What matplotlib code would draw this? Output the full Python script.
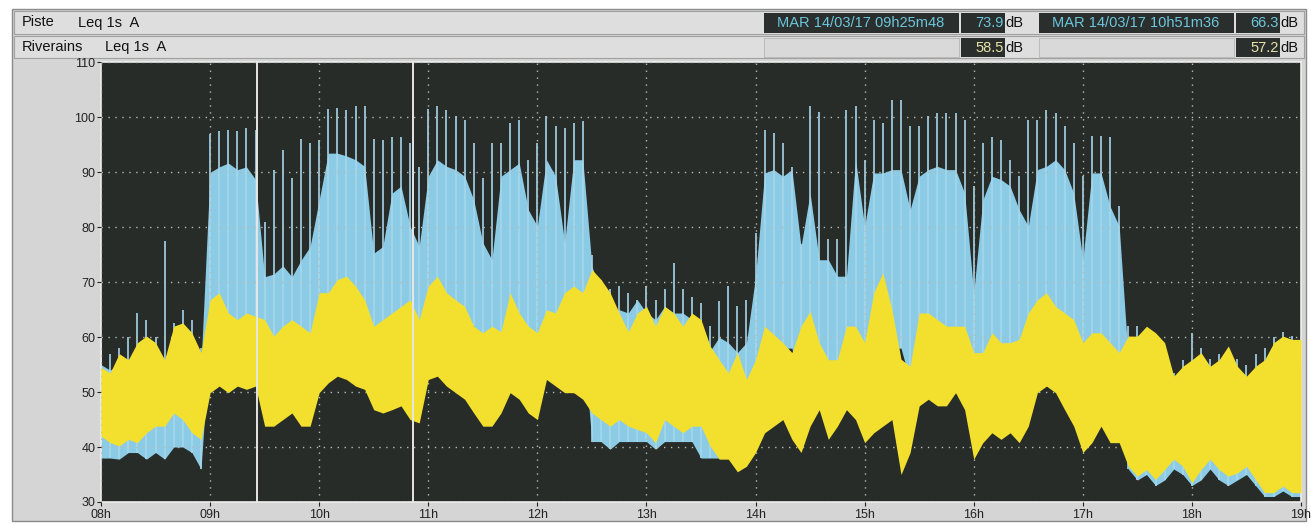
import numpy as np
import matplotlib
matplotlib.use("Agg")
import matplotlib.pyplot as plt
from matplotlib.patches import Rectangle

plt.rcParams['font.family'] = ['Liberation Sans', 'DejaVu Sans']

# ---------------- data (5-minute envelopes, 08:00 -> 19:00) ----------------
bin_minutes = 5
start_hour = 8
end_hour = 19

# Piste (Leq 1s A): spike tops
piste_max = [60, 57, 58, 60, 64.4, 63.2, 60, 77.5, 62.6, 65, 63.2, 58,
             97, 97.5, 97.8, 97.5, 98, 97.8, 81, 90.5, 94, 89,
             96, 95.3, 95.9, 101.5, 101.7, 101.4, 102, 102, 96, 95.9, 96.5, 96.5,
             95.3, 91, 101.5, 102, 101.4, 100.2, 99.6, 95.3, 89, 95.3,
             95.3, 99, 99.6, 92.3, 95.3, 100.2, 98.4, 98, 99, 99.3, 75, 70.5,
             68.7, 69.3, 68.1, 66.8, 69.3, 66.8, 68.7, 73.5, 68.7, 67.4,
             66.2, 62, 66.5, 69.3, 65.6, 66.8, 79, 97.8, 97.2, 95.3, 91, 77,
             102, 101, 77.8, 77.8, 101.3, 102, 92.3, 99.6, 99, 103.2,
             103.2, 98.4, 98.4, 100.2, 100.8, 100.8, 100.8, 99.6, 87.5, 95.3, 96.5, 95.9,
             92.3, 89.3, 99.6, 99.6, 101.4, 100.8, 98.4, 95.3, 89.3, 96.6,
             96.6, 96.5, 83.8, 62, 62, 60, 58, 58, 53.5, 55.9, 60.8, 58,
             56, 57, 57.8, 56, 55, 57, 58, 60, 61, 60.2]
# Piste: top of the dense body
piste_body = [55, 54, 55, 55, 58, 58, 56, 56, 60, 60, 58, 55,
              90, 91, 91.7, 90.5, 91, 88.7, 71, 71.5, 73, 71,
              74, 76.5, 85, 93.5, 93.5, 93, 92.3, 91.1, 75.3, 76.5, 86.2, 87.5,
              80.2, 76.5, 89.3, 92.3, 91.1, 90.5, 89.3, 85, 77.2, 74.1,
              89.3, 90.5, 91.7, 83.2, 80.2, 92.3, 89.3, 77.2, 92.3, 92.3, 72.9, 68.1,
              64.4, 65, 64.4, 66.8, 64.4, 63.2, 65.6, 64.4, 64.4, 63.2,
              61, 57.5, 60, 59, 57.2, 59, 71.1, 89.9, 90.5, 89.3, 90.5, 76.5,
              86.2, 74.1, 74.1, 71.1, 71.1, 92.3, 80.2, 89.9, 89.9, 90.5,
              90.5, 83.2, 89.3, 90.5, 91.1, 90.5, 90.5, 86.2, 68.1, 85, 89.3, 88.7,
              87.5, 83.2, 80.2, 90.5, 91.1, 92.3, 90.5, 86.2, 74.1, 89.9,
              89.9, 83.8, 80.2, 56, 55, 55, 53, 52, 50, 51, 53, 52,
              51, 52, 54, 51, 50, 52, 52, 55, 56, 55]
# Piste: lower envelope
piste_min = [38, 38, 37.8, 39, 39, 37.8, 39, 37.8, 40, 40, 39, 36,
             60, 60, 60, 60, 60, 60, 58, 58, 58, 58,
             58, 58, 62, 62, 62, 62, 62, 62, 58, 58, 58, 58,
             58, 58, 62, 62, 62, 62, 62, 62, 58, 58,
             60, 60, 60, 60, 60, 60, 60, 60, 60, 60, 41, 41,
             39.6, 41, 41, 41, 41, 39.6, 41, 41, 41, 41,
             38, 38, 38, 38, 38, 38, 50, 58, 58, 58, 58, 50,
             58, 50, 50, 50, 50, 58, 52, 58, 58, 58,
             58, 52, 58, 58, 58, 58, 58, 58, 48, 55, 58, 58,
             56, 54, 56, 58, 58, 58, 58, 56, 48, 56,
             56, 52, 50, 36, 34, 35, 33, 34, 36, 35, 33, 34,
             36, 34, 33, 34, 35, 33, 31, 31, 32, 31]
# Riverains (Leq 1s A): upper and lower envelopes
riv_max = [54.5, 53.5, 57, 55.9, 59, 60.2, 59, 55.9, 62, 62.6, 60.8, 57.2,
           66.8, 68.1, 64.4, 63.2, 64.4, 63.8, 63.2, 60.2, 62, 63.2,
           62, 60.8, 68.1, 68.1, 70.5, 71.1, 69.3, 66.8, 62, 63.2, 64.4, 65.6,
           66.8, 63.2, 69.3, 71.1, 68.1, 66.8, 65.6, 62, 60.8, 62,
           61, 68.1, 64.4, 62, 60.8, 65, 64.4, 68.1, 69.3, 68.1, 72.3, 70.5,
           68.1, 64.4, 61, 64.4, 65.6, 62, 65.6, 64.4, 62, 64.4,
           63.2, 58.4, 55.9, 53.5, 57.2, 52.3, 55.9, 62, 60.5, 59, 57.2, 62,
           64.7, 59, 55.9, 55.9, 62, 62, 59, 68.1, 71.7, 65,
           56, 54.7, 64.4, 64.4, 63.2, 62, 62, 62, 57.2, 57.2, 60.8, 59,
           59, 59.6, 64.4, 66.8, 68.1, 65.6, 64.4, 63.2, 59, 60.8,
           60.8, 59, 57.2, 60.2, 60.2, 62, 60.8, 59, 52.9, 54.7, 55.9, 57.2,
           54.7, 55.9, 58.4, 54.7, 52.9, 54.7, 55.9, 59, 60.2, 59.6]
riv_min = [42, 40.8, 40.2, 41.4, 40.8, 42.6, 43.8, 43.8, 46.2, 45, 42.6, 41.4,
           49.9, 51.1, 49.9, 51.1, 50.5, 51.1, 43.8, 43.8, 45, 46.2,
           43.8, 43.8, 49.9, 51.7, 52.9, 52.3, 51.1, 50.5, 46.8, 46.2, 46.8, 47.5,
           45, 44.4, 52.3, 52.9, 51.1, 49.9, 48.7, 46.2, 43.8, 43.8,
           46.2, 49.9, 48.7, 46.2, 45, 52.3, 51.1, 49.9, 49.9, 48.7, 46.2, 45,
           43.8, 45, 43.8, 43.2, 42.6, 40.8, 45, 43.8, 42.6, 43.8,
           43.8, 40.2, 37.8, 37.8, 35.5, 36.5, 39, 42.6, 43.8, 45, 41.4, 39,
           43.8, 46.8, 41.4, 43.8, 46.8, 45, 40.8, 42.6, 43.8, 45,
           35, 39, 47.5, 48.7, 47.5, 47.5, 49.9, 46.8, 37.8, 40.8, 42.6, 41.4,
           42.6, 40.8, 43.8, 49.9, 51.1, 49.9, 46.8, 43.8, 39, 40.8,
           43.8, 40.8, 40.8, 36.5, 34.7, 35.9, 34.1, 35.9, 37.8, 36.5, 33.5, 35.9,
           37.8, 35.9, 34.7, 35.3, 36.5, 34.1, 31.7, 31.7, 32.9, 31.7]

cursor_times = ["09h25m48", "10h51m36"]
cursor_piste = ["73.9", "66.3"]
cursor_riv = ["58.5", "57.2"]
date_label = "MAR 14/03/17"
y_ticks = [30, 40, 50, 60, 70, 80, 90, 100, 110]
x_tick_labels = ["08h", "09h", "10h", "11h", "12h", "13h", "14h", "15h", "16h", "17h", "18h", "19h"]

# ---------------- styling ----------------
W, H = 1311, 525
BG_PLOT = "#272c29"
BLUE = "#8ccbe6"
SPIKE = "#a6d5ea"
YELLOW = "#f3e02e"
PANEL = "#d5d5d5"
ROW = "#dedede"
DARKBOX = "#2a2f2d"
CYAN_TXT = "#6cc6dc"
YEL_TXT = "#eae3a6"

fig = plt.figure(figsize=(W / 100, H / 100), dpi=100)
fig.patch.set_facecolor("white")


def frac(x, y, w, h):
    """pixel box (top-left origin) -> figure fraction (left, bottom, w, h)"""
    return (x / W, 1 - (y + h) / H, w / W, h / H)


def box(x, y, w, h, fc, ec="none", lw=0.8, z=-10):
    l, b, ww, hh = frac(x, y, w, h)
    fig.patches.append(Rectangle((l, b), ww, hh, transform=fig.transFigure,
                                 facecolor=fc, edgecolor=ec, lw=lw, zorder=z))


def ftext(x, y, s, **kw):
    fig.text(x / W, 1 - y / H, s, **kw)


# outer panel
box(12, 9, 1294, 512, PANEL, ec="#8a8a8a", lw=1.0, z=-20)
# header rows
box(14, 11, 1290, 23, ROW, ec="#a0a0a0", lw=0.8)
box(14, 36, 1290, 22, ROW, ec="#a0a0a0", lw=0.8)

ftext(22, 22.5, "Piste", fontsize=10.5, va="center", ha="left", color="#111")
ftext(78, 22.5, "Leq 1s  A", fontsize=10.5, va="center", ha="left", color="#111")
ftext(22, 47, "Riverains", fontsize=10.5, va="center", ha="left", color="#111")
ftext(105, 47, "Leq 1s  A", fontsize=10.5, va="center", ha="left", color="#111")

# cursor readouts
cx = [764, 1039]
for i in range(2):
    x0 = cx[i]
    # row 1
    box(x0, 13, 195, 20, DARKBOX)
    ftext(x0 + 97, 23, f"{date_label} {cursor_times[i]}", fontsize=10.5,
          color=CYAN_TXT, ha="center", va="center")
    box(x0 + 197, 13, 44, 20, DARKBOX)
    ftext(x0 + 240, 23, cursor_piste[i], fontsize=10.5, color=CYAN_TXT,
          ha="right", va="center")
    ftext(x0 + 241, 23, "dB", fontsize=10.5, color="#111", ha="left", va="center")
    # row 2
    box(x0, 38, 195, 19, "#d9d9d9", ec="#b5b5b5", lw=0.6)
    box(x0 + 197, 38, 44, 19, DARKBOX)
    ftext(x0 + 240, 47.5, cursor_riv[i], fontsize=10.5, color=YEL_TXT,
          ha="right", va="center")
    ftext(x0 + 241, 47.5, "dB", fontsize=10.5, color="#111", ha="left", va="center")

# ---------------- plot area ----------------
ax = fig.add_axes(frac(101, 62.5, 1200, 439.5))
ax.set_zorder(5)
ax.set_facecolor(BG_PLOT)

n = len(piste_max)
t_start = start_hour + np.arange(n) * bin_minutes / 60.0
t_edges = np.append(t_start, end_hour)


def ext(a):
    a = np.asarray(a, float)
    return np.append(a, a[-1])


# piste: dense body + spikes
ax.fill_between(t_edges, ext(piste_min), ext(piste_body), color=BLUE, lw=0, zorder=2)
ax.vlines(t_start, piste_min, piste_max, color=SPIKE, lw=1.2, zorder=2)
# riverains on top
ax.fill_between(t_edges, ext(riv_min), ext(riv_max), color=YELLOW, lw=0, zorder=3)

# cursors
cursor_hours = []
for s in cursor_times:
    hh = int(s[0:2]); mm = int(s[3:5]); ss = int(s[6:8])
    cursor_hours.append(hh + mm / 60 + ss / 3600)
for ch in cursor_hours:
    ax.axvline(ch, color="#e6e6e6", lw=1.4, zorder=5)

ax.set_xlim(start_hour, end_hour)
ax.set_ylim(30, 110)
ax.set_yticks(y_ticks)
ax.set_xticks(np.arange(start_hour, end_hour + 1))
ax.set_xticklabels(x_tick_labels)
ax.grid(True, color="#b9b9ae", linestyle=(0, (1, 4)), lw=1.0, zorder=4)
ax.set_axisbelow(False)
for sp in ax.spines.values():
    sp.set_color("#eeeeee")
    sp.set_linewidth(1.2)
ax.tick_params(axis="y", labelsize=9, length=3, colors="#222", pad=1)
ax.tick_params(axis="x", labelsize=9, length=3, colors="#222", pad=2)

fig.savefig("out.png", dpi=100, facecolor=fig.get_facecolor())
